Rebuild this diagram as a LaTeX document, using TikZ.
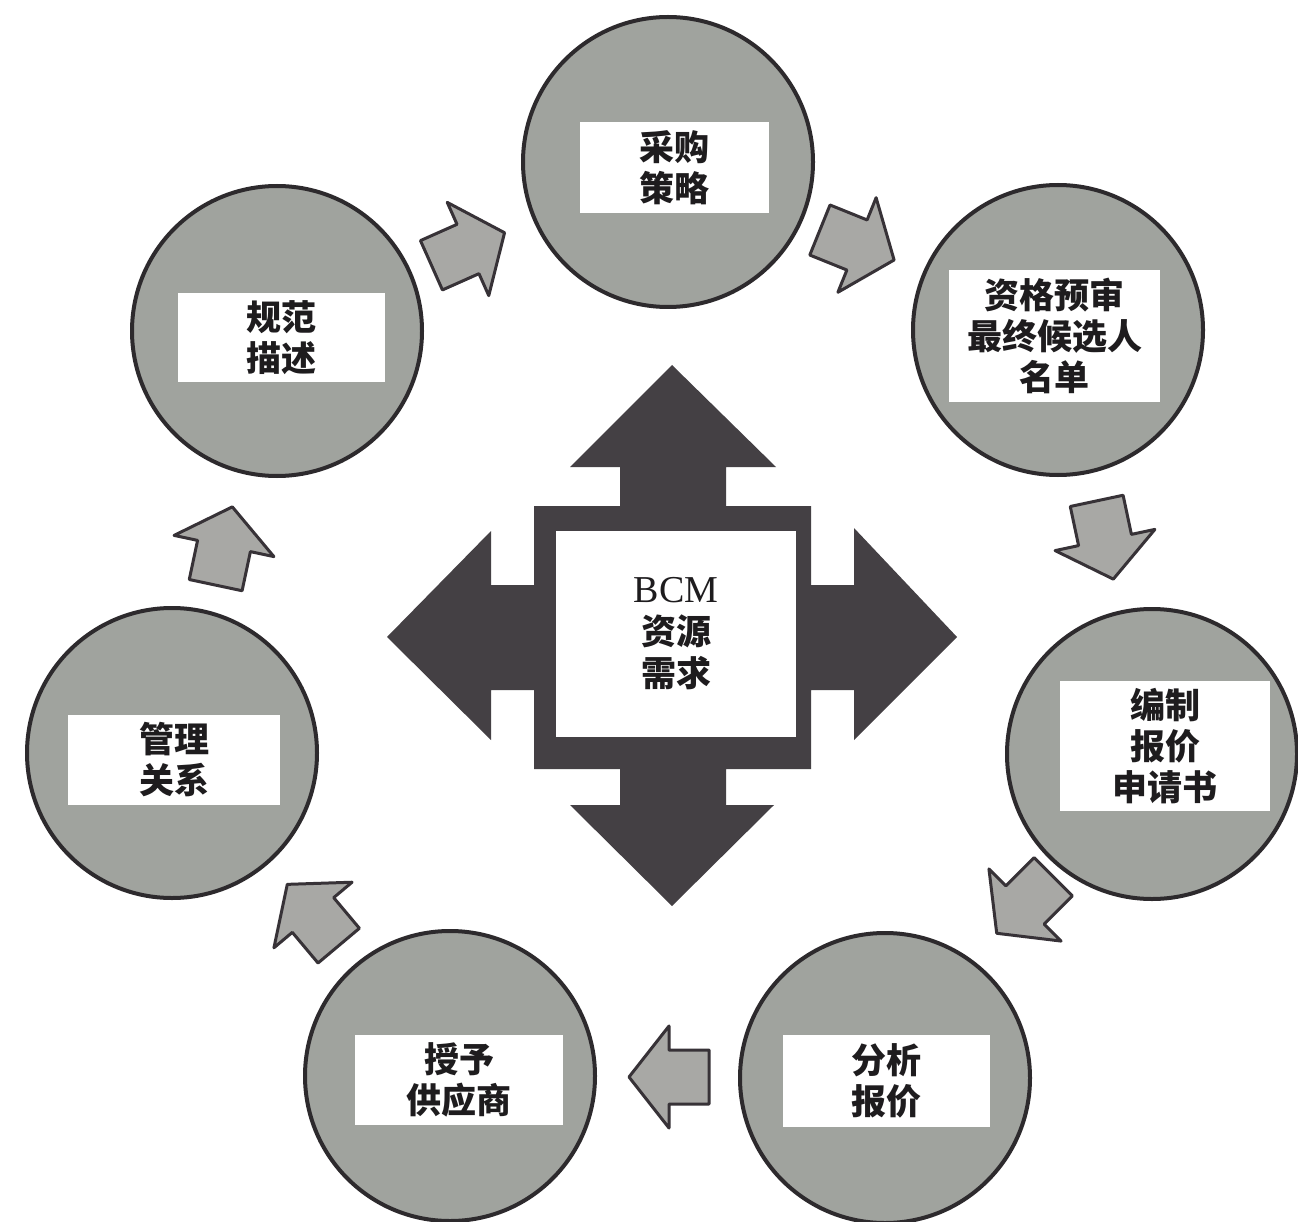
\documentclass[tikz,border=0pt]{standalone}
\usepackage{fontspec}
\setmainfont{Liberation Serif}
\newfontfamily\cjk{Noto Sans CJK SC}
\definecolor{ringfill}{RGB}{160,163,158}
\definecolor{ringline}{RGB}{45,42,45}
\definecolor{arrowfill}{RGB}{168,168,165}
\definecolor{arrowline}{RGB}{55,50,55}
\definecolor{hubfill}{RGB}{68,64,68}
\definecolor{inktext}{RGB}{30,28,30}
\begin{document}
\begin{tikzpicture}[x=1pt,y=-1pt,
  stage/.style={circle, draw=ringline, line width=4pt, fill=ringfill, minimum size=290pt, inner sep=0pt},
  tag/.style={fill=white, inner sep=0pt, align=center, text=inktext, font=\cjk\bfseries\fontsize{35}{41}\selectfont},
  flow/.style={draw=arrowline, line width=3pt, fill=arrowfill, line join=round},
  hub/.style={fill=hubfill},
  blockarr/.pic={\draw[flow] (-40,-27) -- (0,-27) -- (0,-51) -- (40,0) -- (0,51) -- (0,27) -- (-40,27) -- cycle;}
]
\useasboundingbox (0,0) rectangle (1298,1222);
\clip (0,0) rectangle (1298,1222);
\fill[white] (0,0) rectangle (1298,1222);

% central hub with four arrows
\fill[hub] (672,365) -- (776,467) -- (726,467) -- (726,506) -- (811,506) -- (811,585)
  -- (854,585) -- (854,528) -- (957,637) -- (854,740) -- (854,690) -- (811,690)
  -- (811,769) -- (726,769) -- (726,805) -- (774,805) -- (672,906) -- (570,805)
  -- (620,805) -- (620,769) -- (534,769) -- (534,690) -- (491,690) -- (491,740)
  -- (387,637) -- (491,531) -- (491,585) -- (534,585) -- (534,506) -- (620,506)
  -- (620,467) -- (570,467) -- cycle;
\node[fill=white, minimum width=240pt, minimum height=206pt, inner sep=0pt, align=center,
  text=inktext, font=\fontsize{38}{42}\selectfont] (hub) at (676,634)
  {BCM\\{\cjk\bfseries\fontsize{35}{42}\selectfont 资源}\\{\cjk\bfseries\fontsize{35}{42}\selectfont 需求}};

% stages
\node[stage] (s1) at (668,162) {};
\node[stage] (s2) at (1058,330) {};
\node[stage] (s3) at (1152,754) {};
\node[stage] (s4) at (885,1078) {};
\node[stage] (s5) at (450,1076) {};
\node[stage] (s6) at (172,753) {};
\node[stage] (s7) at (277,331) {};

\node[tag, minimum width=189pt, minimum height=91pt] (t1) at (674.5,167.5) {采购\\策略};
\node[tag, minimum width=211pt, minimum height=132pt] (t2) at (1054.5,336) {资格预审\\最终候选人\\名单};
\node[tag, minimum width=210pt, minimum height=130pt] (t3) at (1165,746) {编制\\报价\\申请书};
\node[tag, minimum width=207pt, minimum height=92pt] (t4) at (886.5,1081) {分析\\报价};
\node[tag, minimum width=208pt, minimum height=90pt] (t5) at (459,1080) {授予\\供应商};
\node[tag, minimum width=212pt, minimum height=90pt] (t6) at (174,760) {管理\\关系};
\node[tag, minimum width=207pt, minimum height=89pt] (t7) at (281.5,337.5) {规范\\描述};

% flow arrows between stages
\pic[rotate=24] at (468,249) {blockarr};
\pic[rotate=-22] at (857,245) {blockarr};
\pic[rotate=-78] at (1105,540) {blockarr};
\pic[rotate=-135] at (1025,905) {blockarr};
\pic[rotate=180] at (669,1077) {blockarr};
\pic[rotate=130] at (313,915) {blockarr};
\pic[rotate=78] at (224,546) {blockarr};
\end{tikzpicture}
\end{document}
